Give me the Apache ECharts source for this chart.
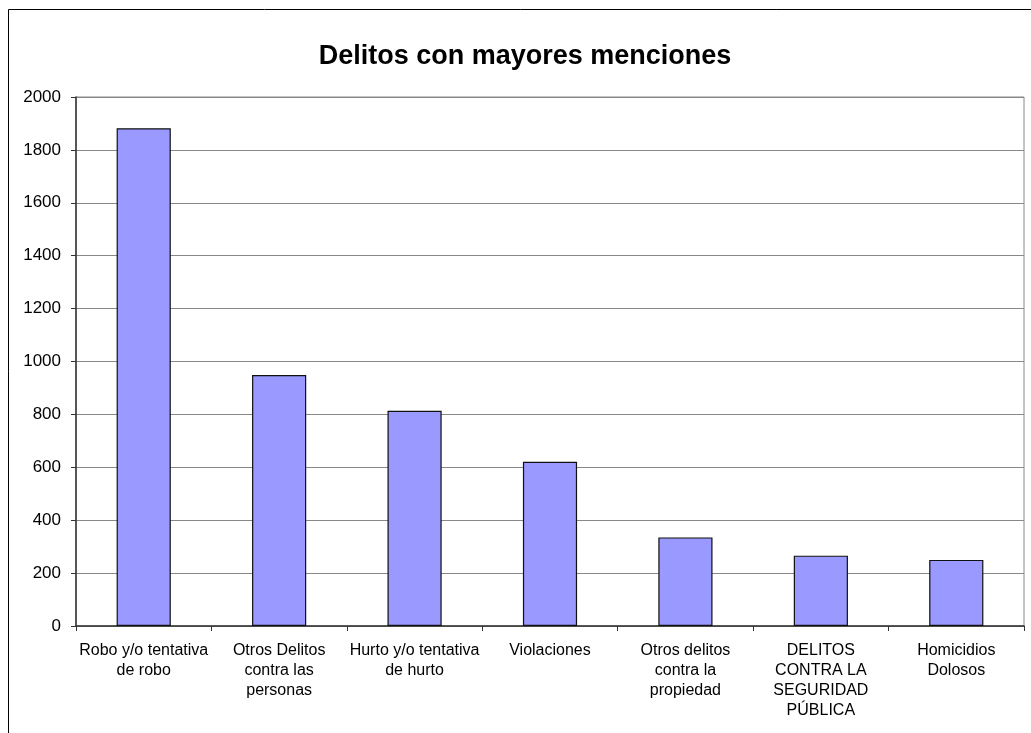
<!DOCTYPE html>
<html>
<head>
<meta charset="utf-8">
<script src="https://cdn.jsdelivr.net/npm/echarts@6/dist/echarts.min.js"></script>
<style>
  html, body { margin: 0; padding: 0; background: #fff; }
  #chart { width: 1031px; height: 733px; }
</style>
</head>
<body>
<div id="chart"></div>
<script>
// categorias (con saltos de línea como en el original)
var categorias = [
    'Robo y/o tentativa\nde robo',
    'Otros Delitos\ncontra las\npersonas',
    'Hurto y/o tentativa\nde hurto',
    'Violaciones',
    'Otros delitos\ncontra la\npropiedad',
    'DELITOS\nCONTRA LA\nSEGURIDAD\nPÚBLICA',
    'Homicidios\nDolosos'
];
// menciones por delito
var menciones = [1882, 949, 814, 621, 335, 266, 250];

var myChart = echarts.init(document.getElementById('chart'));

var option = {
    animation: false,
    backgroundColor: '#fff',
    textStyle: { fontFamily: 'Liberation Sans, Arial, sans-serif' },
    title: {
        text: 'Delitos con mayores menciones',
        left: 520,
        top: 38,
        textAlign: 'center',
        textStyle: {
            fontSize: 27,
            fontWeight: 'bold',
            color: '#000',
            fontFamily: 'Liberation Sans, Arial, sans-serif'
        }
    },
    // marco exterior
    graphic: [{
        type: 'rect',
        shape: { x: 8.5, y: 9.5, width: 1100, height: 800 },
        style: { fill: 'none', stroke: '#000', lineWidth: 1 },
        silent: true
    }],
    grid: {
        left: 76,
        right: 7,
        top: 97,
        bottom: 107,
        show: true,
        borderColor: '#888',
        borderWidth: 1,
        containLabel: false
    },
    xAxis: {
        type: 'category',
        data: categorias,
        axisLine: { lineStyle: { color: '#333', width: 1.5 } },
        axisTick: { show: true, inside: false, length: 5, alignWithLabel: false, lineStyle: { color: '#333' } },
        axisLabel: {
            interval: 0,
            margin: 15,
            color: '#000',
            fontSize: 16,
            lineHeight: 20,
            fontFamily: 'Liberation Sans, Arial, sans-serif'
        }
    },
    yAxis: {
        type: 'value',
        min: 0,
        max: 2000,
        interval: 200,
        axisLine: { show: true, lineStyle: { color: '#333', width: 1.5 } },
        axisTick: { show: true, length: 5, lineStyle: { color: '#333' } },
        splitLine: { show: true, lineStyle: { color: '#888', width: 1 } },
        axisLabel: {
            margin: 15,
            color: '#000',
            fontSize: 17,
            formatter: function (v) { return String(v); },
            fontFamily: 'Liberation Sans, Arial, sans-serif'
        }
    },
    series: [{
        type: 'bar',
        data: menciones,
        barWidth: '40%',
        itemStyle: {
            color: '#9999FF',
            borderColor: '#111',
            borderWidth: 1.2
        }
    }]
};

myChart.setOption(option);
</script>
</body>
</html>
